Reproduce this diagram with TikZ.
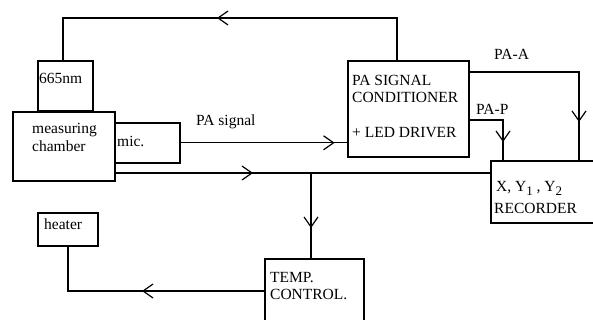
\documentclass[tikz,border=0pt]{standalone}
\usepackage{fontspec}
\setmainfont{Liberation Serif}
\newfontfamily\refserif{Liberation Serif}
\usetikzlibrary{arrows.meta,decorations.markings}
\newcommand{\lowsub}[1]{\raisebox{-3.5pt}{\fontsize{13}{13}\selectfont #1}}
\tikzset{
  box/.style={draw, line width=1.6pt, inner sep=0pt, anchor=north west},
  txt/.style={anchor=base west, inner sep=0pt, font=\refserif\fontsize{15.5}{17}\selectfont},
  wire/.style={line width=1.1pt},
  arr/.style={postaction={decorate, decoration={markings,
      mark=at position #1 with {\arrow{Straight Barb[length=10pt,width=14pt,line width=1.2pt]}}}}}
}
\begin{document}
\begin{tikzpicture}[x=1pt,y=-1pt]
\clip (0,0) rectangle (593,320);
\fill[white] (0,0) rectangle (593,320);
% boxes
\node[box, minimum width=55pt, minimum height=50pt] (laser) at (37,60) {};
\node[box, minimum width=102pt, minimum height=69pt] (chamber) at (12,111) {};
\node[box, minimum width=65pt, minimum height=40pt] (mic) at (114,122) {};
\node[box, minimum width=121pt, minimum height=96pt] (pa) at (347,60) {};
\node[box, minimum width=115pt, minimum height=62pt] (rec) at (490,160) {};
\node[box, minimum width=99pt, minimum height=70pt] (temp) at (264,258) {};
\node[box, minimum width=60pt, minimum height=33pt] (heater) at (37,212) {};
% texts
\node[txt] (t665) at (39,84) {665nm};
\node[txt] (tmeas) at (32,134) {measuring};
\node[txt] (tcham) at (32,152) {chamber};
\node[txt] (tmic) at (117,147) {mic.};
\node[txt] (tpas) at (196,126) {PA signal};
\node[txt] (tpa1) at (352,86) {PA SIGNAL};
\node[txt] (tpa2) at (352,103) {CONDITIONER};
\node[txt] (tpa3) at (352,138) {+ LED DRIVER};
\node[txt] (tpaa) at (494,60) {PA-A};
\node[txt] (tpap) at (476,115) {PA-P};
\node[txt] (trec1) at (496,192) {X, Y\lowsub{1} , Y\lowsub{2}};
\node[txt] (trec2) at (494,213) {RECORDER};
\node[txt] (theat) at (44,229) {heater};
\node[txt] (ttemp1) at (270,282) {TEMP.};
\node[txt] (ttemp2) at (270,299) {CONTROL.};
% coordinates
\coordinate (fb) at (63,18);
\coordinate (chout) at (114,173);
\coordinate (branch) at (311,173);
\coordinate (paA) at (468,72);
\coordinate (paP) at (468,120);
\coordinate (tout) at (264,291);
% connectors
\draw[wire, arr=222pt] (pa.north -| 397,0) |- (fb) -- (laser.north -| fb);
\draw[wire, arr=154pt] (mic.east) -- (pa.west |- mic.east);
\draw[wire, arr=139pt] (chout) -- (rec.west |- chout);
\draw[wire, arr=55pt] (branch) -- (temp.north -| branch);
\draw[wire, arr=161pt] (paA) -| (rec.north -| 579,0);
\draw[wire, arr=57pt] (paP) -| (rec.north -| 503,0);
\draw[wire, arr=122pt] (tout) -| (heater.south -| 68,0);
\end{tikzpicture}
\end{document}
